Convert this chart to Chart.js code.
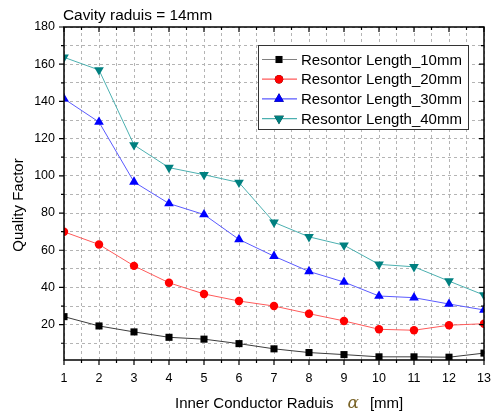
<!DOCTYPE html>
<html>
<head>
<meta charset="utf-8">
<script src="https://cdn.jsdelivr.net/npm/chart.js@4.4.0/dist/chart.umd.min.js"></script>
<style>
  html, body { margin: 0; padding: 0; background: #fff; }
  #chart { display: block; }
</style>
</head>
<body>
<canvas id="chart" width="492" height="412"></canvas>
<script>
const radius = [1, 2, 3, 4, 5, 6, 7, 8, 9, 10, 11, 12, 13];
const len10 = [24.3, 19.3, 16.1, 13.2, 12.2, 9.8, 7.0, 5.0, 3.9, 2.7, 2.7, 2.5, 4.7];
const len20 = [69.9, 63.1, 51.6, 42.5, 36.5, 32.7, 30.0, 25.9, 22.0, 17.5, 17.0, 19.7, 20.5];
const len30 = [141.4, 128.9, 96.7, 85.1, 79.2, 65.8, 56.8, 48.6, 42.9, 35.4, 34.5, 31.1, 27.9];
const len40 = [163.7, 156.9, 116.6, 104.4, 100.6, 96.4, 75.0, 67.2, 62.7, 52.4, 51.1, 43.4, 35.9];
const yTicks = [10, 20, 30, 40, 50, 60, 70, 80, 90, 100, 110, 120, 130, 140, 150, 160, 170, 180];
const seriesNames = ["Resontor Length_10mm", "Resontor Length_20mm", "Resontor Length_30mm", "Resontor Length_40mm"];

const FONT = "Arial, 'Liberation Sans', sans-serif";

function pts(vals) {
  return vals.map((v, i) => ({ x: radius[i], y: v }));
}

const styles = [
  { line: "#3c3c3c", mark: "#000000", shape: "rect", r: 5, rot: 0 },
  { line: "#ff5a5a", mark: "#ff0000", shape: "circle", r: 4.2, rot: 0 },
  { line: "#5a5aff", mark: "#0000ff", shape: "triangle", r: 5.6, rot: 0 },
  { line: "#4cb0b0", mark: "#008080", shape: "triangle", r: 5.6, rot: 180 },
];
const allVals = [len10, len20, len30, len40];

const datasets = allVals.map((vals, i) => ({
  label: seriesNames[i],
  data: pts(vals),
  borderColor: styles[i].line,
  borderWidth: 1,
  backgroundColor: styles[i].mark,
  pointBackgroundColor: styles[i].mark,
  pointBorderColor: styles[i].mark,
  pointBorderWidth: 0,
  pointStyle: styles[i].shape,
  pointRotation: styles[i].rot,
  pointRadius: styles[i].r,
  tension: 0,
}));

const decorPlugin = {
  id: "decor",
  afterDraw(chart) {
    const ctx = chart.ctx;
    const a = chart.chartArea;
    const xs = chart.scales.x;
    const ys = chart.scales.y;
    ctx.save();

    // frame
    ctx.strokeStyle = "#000";
    ctx.lineWidth = 1.5;
    ctx.strokeRect(a.left, a.top, a.right - a.left, a.bottom - a.top);

    // ticks
    ctx.lineWidth = 1.2;
    ctx.beginPath();
    for (let v = 1; v <= 13; v += 0.5) {
      const px = xs.getPixelForValue(v);
      const l = Number.isInteger(v) ? 5 : 3;
      ctx.moveTo(px, a.bottom); ctx.lineTo(px, a.bottom + l);
      ctx.moveTo(px, a.top); ctx.lineTo(px, a.top + l);
    }
    yTicks.forEach((v) => {
      const py = ys.getPixelForValue(v);
      const l = v % 20 === 0 ? 5 : 3;
      ctx.moveTo(a.left, py); ctx.lineTo(a.left - l, py);
      ctx.moveTo(a.right, py); ctx.lineTo(a.right - l, py);
    });
    ctx.stroke();

    // chart title
    ctx.fillStyle = "#000";
    ctx.font = "15.4px " + FONT;
    ctx.textAlign = "left";
    ctx.textBaseline = "alphabetic";
    ctx.fillText("Cavity raduis = 14mm", 63, 20);

    // y title
    ctx.save();
    ctx.translate(23, 205);
    ctx.rotate(-Math.PI / 2);
    ctx.textAlign = "center";
    ctx.font = "15px " + FONT;
    ctx.fillText("Quality Factor", 0, 0);
    ctx.restore();

    // x title
    ctx.textAlign = "left";
    ctx.font = "15px " + FONT;
    let x = 175;
    const by = 408;
    const t1 = "Inner Conductor Raduis";
    ctx.fillText(t1, x, by);
    x += ctx.measureText(t1).width + 14;
    ctx.font = "italic 17px 'DejaVu Serif', serif";
    ctx.fillStyle = "#7a6428";
    ctx.fillText("\u03b1", x, by);
    x += ctx.measureText("\u03b1").width + 11;
    ctx.font = "15px " + FONT;
    ctx.fillStyle = "#000";
    ctx.fillText("[mm]", x, by);

    // legend
    const lx = 258, ly = 45, lw = 210, lh = 84;
    ctx.fillStyle = "#fff";
    ctx.fillRect(lx, ly, lw, lh);
    ctx.strokeStyle = "#333";
    ctx.lineWidth = 1;
    ctx.strokeRect(lx + 0.5, ly + 0.5, lw, lh);
    const legLine = ["#808080", "#ff5a5a", "#5a5aff", "#4cb0b0"];
    chart.data.datasets.forEach((ds, i) => {
      const cy = 59.5 + i * 19.7;
      ctx.strokeStyle = legLine[i];
      ctx.lineWidth = 1.2;
      ctx.beginPath();
      ctx.moveTo(lx + 4, cy); ctx.lineTo(lx + 39, cy);
      ctx.stroke();
      Chart.helpers.drawPoint(ctx, {
        pointStyle: styles[i].shape,
        rotation: styles[i].rot,
        radius: styles[i].r,
        borderWidth: 0,
      }, lx + 21, cy);
      ctx.fillStyle = styles[i].mark;
      ctx.fill();
      ctx.fillStyle = "#000";
      ctx.font = "15px " + FONT;
      ctx.textBaseline = "middle";
      ctx.fillText(ds.label, 301, cy + 1);
      ctx.textBaseline = "alphabetic";
    });

    ctx.restore();
  },
};

new Chart(document.getElementById("chart"), {
  type: "line",
  data: { datasets: datasets },
  options: {
    responsive: false,
    animation: false,
    layout: { padding: { top: 27, right: 8, left: 0, bottom: 0 } },
    plugins: {
      legend: { display: false },
      tooltip: { enabled: false },
      title: { display: false },
    },
    scales: {
      x: {
        type: "linear",
        min: 1,
        max: 13,
        afterFit: (s) => { s.height = 52; s.paddingLeft = 0; s.paddingRight = 0; },
        ticks: {
          stepSize: 0.5,
          autoSkip: false,
          maxRotation: 0,
          padding: 11,
          color: "#000",
          font: { size: 12.5, family: FONT },
          callback: (v) => (Number.isInteger(v) ? v : ""),
        },
        grid: { color: "#b4b4b4", lineWidth: 1, drawTicks: false },
        border: { display: false, dash: [3, 3] },
      },
      y: {
        min: 1,
        max: 180,
        afterFit: (s) => { s.width = 64; s.paddingTop = 0; s.paddingBottom = 0; },
        afterBuildTicks: (s) => { s.ticks = yTicks.map((v) => ({ value: v })); },
        ticks: {
          autoSkip: false,
          padding: 9,
          color: "#000",
          font: { size: 12.5, family: FONT },
          callback: (v) => (v % 20 === 0 ? v : ""),
        },
        grid: { color: "#b4b4b4", lineWidth: 1, drawTicks: false },
        border: { display: false, dash: [3, 3] },
      },
    },
  },
  plugins: [decorPlugin],
});
</script>
</body>
</html>
